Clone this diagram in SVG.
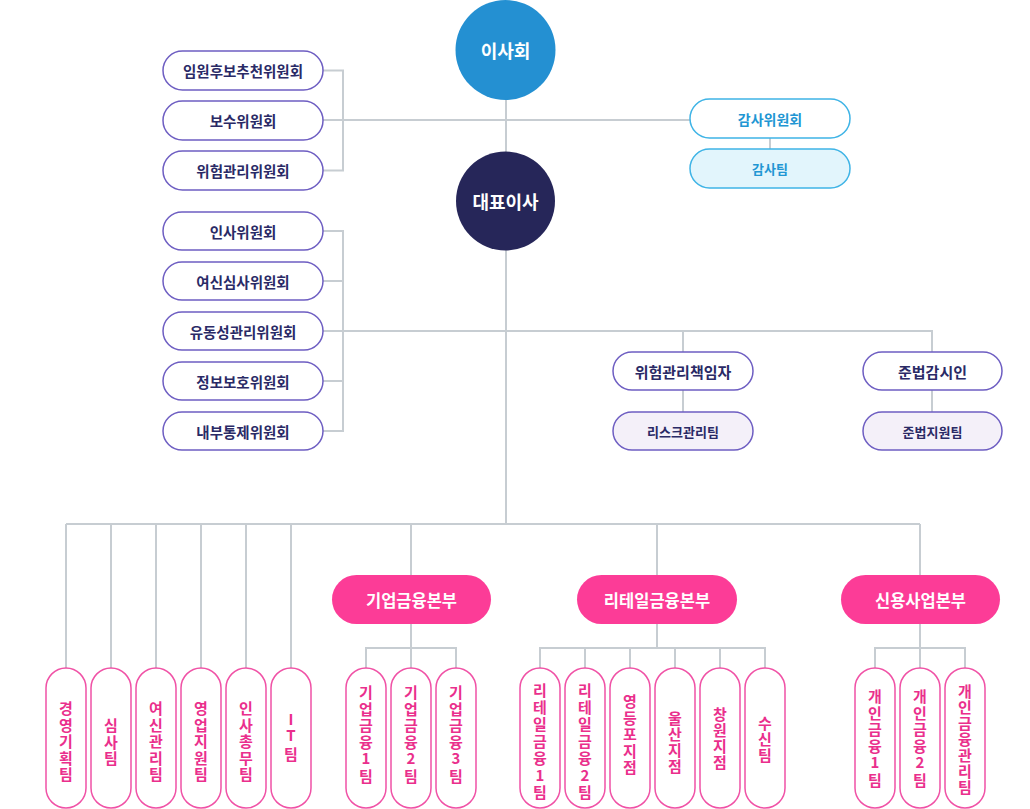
<svg xmlns="http://www.w3.org/2000/svg" width="1030" height="809" viewBox="0 0 1030 809">
<style>
text{font-family:"Noto Sans CJK KR","Noto Sans",sans-serif;text-anchor:middle;dominant-baseline:central}
.ln{stroke:#c7cdd2;stroke-width:2;fill:none}
.cm rect{fill:#fff;stroke:#6e5ec2;stroke-width:1.5}
.cm text{fill:#2a2a66;font-size:14.5px;font-weight:600}
.sub rect{fill:#f4f0f9;stroke:#6e5ec2;stroke-width:1.5}
.sub text{fill:#2a2a66;font-size:13px;font-weight:600}
.au rect{fill:#fff;stroke:#3fb4e6;stroke-width:1.5}
.au text{fill:#2196d3;font-size:14px;font-weight:600}
.aut rect{fill:#e2f5fc;stroke:#3fb4e6;stroke-width:1.5}
.aut text{fill:#2196d3;font-size:13px;font-weight:600}
.hq rect{fill:#fc3c97}
.hq text{fill:#fff;font-size:16.5px;font-weight:600}
.tm rect{fill:#fff;stroke:#f052a6;stroke-width:1.5}
.tm text{fill:#ea2f8c;font-size:15px;font-weight:700}
.big{fill:#fff;font-size:18px;font-weight:600}
</style>
<g id="connectors">
<path class="ln" d="M506 100V152M506 250V524"/>
<path class="ln" d="M323 70.5H343V170.5H323M323 120H690M770 138V149"/>
<path class="ln" d="M323 231H343V431H323M323 281H343M323 381H343M323 331H932V352M683 331V352M683 390V412M932 390V412"/>
<path class="ln" d="M66 524H920M66 524V668M111 524V668M156 524V668M201 524V668M246 524V668M291 524V668M411 524V575M657 524V575M920 524V575"/>
<path class="ln" d="M411 624V648M366 668V648H456V668M411 648V668"/>
<path class="ln" d="M657 624V648M540 668V648H765V668M585 648V668M630 648V668M675 648V668M720 648V668"/>
<path class="ln" d="M920 624V648M875 668V648H965V668M920 648V668"/>
</g>
<g id="board"><circle cx="505.5" cy="50" r="50" fill="#2490d2"/><text class="big" x="505.5" y="50">이사회</text></g>
<g id="ceo"><circle cx="505.5" cy="201" r="49.5" fill="#262659"/><text class="big" x="505.5" y="201">대표이사</text></g>
<g id="c1" class="cm"><rect x="163" y="51" width="160" height="39" rx="19.5"/><text x="243" y="70.5">임원후보추천위원회</text></g>
<g id="c2" class="cm"><rect x="163" y="101" width="160" height="39" rx="19.5"/><text x="243" y="120.5">보수위원회</text></g>
<g id="c3" class="cm"><rect x="163" y="151" width="160" height="39" rx="19.5"/><text x="243" y="170.5">위험관리위원회</text></g>
<g id="c4" class="cm"><rect x="163" y="212" width="160" height="38" rx="19"/><text x="243" y="231">인사위원회</text></g>
<g id="c5" class="cm"><rect x="163" y="262" width="160" height="38" rx="19"/><text x="243" y="281">여신심사위원회</text></g>
<g id="c6" class="cm"><rect x="163" y="312" width="160" height="38" rx="19"/><text x="243" y="331">유동성관리위원회</text></g>
<g id="c7" class="cm"><rect x="163" y="362" width="160" height="38" rx="19"/><text x="243" y="381">정보보호위원회</text></g>
<g id="c8" class="cm"><rect x="163" y="412" width="160" height="38" rx="19"/><text x="243" y="431">내부통제위원회</text></g>
<g id="audit" class="au"><rect x="690" y="99" width="160" height="39" rx="19.5"/><text x="770" y="118.5">감사위원회</text></g>
<g id="auditteam" class="aut"><rect x="690" y="149" width="160" height="39" rx="19.5"/><text x="770" y="168.5">감사팀</text></g>
<g id="cro" class="cm"><rect x="613" y="352" width="140" height="38" rx="19"/><text x="683" y="371" style="font-size:15px">위험관리책임자</text></g>
<g id="risk" class="sub"><rect x="613" y="412" width="140" height="38" rx="19"/><text x="683" y="431">리스크관리팀</text></g>
<g id="cco" class="cm"><rect x="863" y="352" width="139" height="38" rx="19"/><text x="932.5" y="371" style="font-size:15px">준법감시인</text></g>
<g id="comp" class="sub"><rect x="863" y="412" width="139" height="38" rx="19"/><text x="932.5" y="431">준법지원팀</text></g>
<g id="hq1" class="hq"><rect x="332" y="575" width="159" height="49" rx="24.5"/><text x="411.5" y="599.5">기업금융본부</text></g>
<g id="hq2" class="hq"><rect x="577" y="575" width="160" height="49" rx="24.5"/><text x="657" y="599.5">리테일금융본부</text></g>
<g id="hq3" class="hq"><rect x="841" y="575" width="159" height="49" rx="24.5"/><text x="920.5" y="599.5">신용사업본부</text></g>
<g id="t1" class="tm"><rect x="46" y="668" width="40" height="140" rx="20"/><text><tspan x="66" y="707">경</tspan><tspan x="66" y="723.5">영</tspan><tspan x="66" y="740">기</tspan><tspan x="66" y="756.5">획</tspan><tspan x="66" y="773">팀</tspan></text></g>
<g id="t2" class="tm"><rect x="91" y="668" width="40" height="140" rx="20"/><text><tspan x="111" y="724">심</tspan><tspan x="111" y="740.5">사</tspan><tspan x="111" y="757">팀</tspan></text></g>
<g id="t3" class="tm"><rect x="136" y="668" width="40" height="140" rx="20"/><text><tspan x="156" y="707">여</tspan><tspan x="156" y="723.5">신</tspan><tspan x="156" y="740">관</tspan><tspan x="156" y="756.5">리</tspan><tspan x="156" y="773">팀</tspan></text></g>
<g id="t4" class="tm"><rect x="181" y="668" width="40" height="140" rx="20"/><text><tspan x="201" y="707">영</tspan><tspan x="201" y="723.5">업</tspan><tspan x="201" y="740">지</tspan><tspan x="201" y="756.5">원</tspan><tspan x="201" y="773">팀</tspan></text></g>
<g id="t5" class="tm"><rect x="226" y="668" width="40" height="140" rx="20"/><text><tspan x="246" y="707">인</tspan><tspan x="246" y="723.5">사</tspan><tspan x="246" y="740">총</tspan><tspan x="246" y="756.5">무</tspan><tspan x="246" y="773">팀</tspan></text></g>
<g id="t6" class="tm"><rect x="271" y="668" width="40" height="140" rx="20"/><text><tspan x="291" y="718">I</tspan><tspan x="291" y="734">T</tspan><tspan x="291" y="753">팀</tspan></text></g>
<g id="t7" class="tm"><rect x="346" y="668" width="40" height="140" rx="20"/><text><tspan x="366" y="691">기</tspan><tspan x="366" y="707.5">업</tspan><tspan x="366" y="724">금</tspan><tspan x="366" y="740.5">융</tspan><tspan x="366" y="757">1</tspan><tspan x="366" y="775">팀</tspan></text></g>
<g id="t8" class="tm"><rect x="391" y="668" width="40" height="140" rx="20"/><text><tspan x="411" y="691">기</tspan><tspan x="411" y="707.5">업</tspan><tspan x="411" y="724">금</tspan><tspan x="411" y="740.5">융</tspan><tspan x="411" y="757">2</tspan><tspan x="411" y="775">팀</tspan></text></g>
<g id="t9" class="tm"><rect x="436" y="668" width="40" height="140" rx="20"/><text><tspan x="456" y="691">기</tspan><tspan x="456" y="707.5">업</tspan><tspan x="456" y="724">금</tspan><tspan x="456" y="740.5">융</tspan><tspan x="456" y="757">3</tspan><tspan x="456" y="775">팀</tspan></text></g>
<g id="t10" class="tm"><rect x="520" y="668" width="40" height="140" rx="20"/><text><tspan x="540" y="689">리</tspan><tspan x="540" y="706">테</tspan><tspan x="540" y="723">일</tspan><tspan x="540" y="740">금</tspan><tspan x="540" y="757">융</tspan><tspan x="540" y="774">1</tspan><tspan x="540" y="791">팀</tspan></text></g>
<g id="t11" class="tm"><rect x="565" y="668" width="40" height="140" rx="20"/><text><tspan x="585" y="689">리</tspan><tspan x="585" y="706">테</tspan><tspan x="585" y="723">일</tspan><tspan x="585" y="740">금</tspan><tspan x="585" y="757">융</tspan><tspan x="585" y="774">2</tspan><tspan x="585" y="791">팀</tspan></text></g>
<g id="t12" class="tm"><rect x="610" y="668" width="40" height="140" rx="20"/><text><tspan x="630" y="700">영</tspan><tspan x="630" y="716.5">등</tspan><tspan x="630" y="733">포</tspan><tspan x="630" y="749.5">지</tspan><tspan x="630" y="766">점</tspan></text></g>
<g id="t13" class="tm"><rect x="655" y="668" width="40" height="140" rx="20"/><text><tspan x="675" y="717">울</tspan><tspan x="675" y="733">산</tspan><tspan x="675" y="749">지</tspan><tspan x="675" y="765">점</tspan></text></g>
<g id="t14" class="tm"><rect x="700" y="668" width="40" height="140" rx="20"/><text><tspan x="720" y="713">창</tspan><tspan x="720" y="729">원</tspan><tspan x="720" y="745">지</tspan><tspan x="720" y="761">점</tspan></text></g>
<g id="t15" class="tm"><rect x="745" y="668" width="40" height="140" rx="20"/><text><tspan x="765" y="722">수</tspan><tspan x="765" y="738">신</tspan><tspan x="765" y="754">팀</tspan></text></g>
<g id="t16" class="tm"><rect x="855" y="668" width="40" height="140" rx="20"/><text><tspan x="875" y="695">개</tspan><tspan x="875" y="711.5">인</tspan><tspan x="875" y="728">금</tspan><tspan x="875" y="744.5">융</tspan><tspan x="875" y="761">1</tspan><tspan x="875" y="779">팀</tspan></text></g>
<g id="t17" class="tm"><rect x="900" y="668" width="40" height="140" rx="20"/><text><tspan x="920" y="695">개</tspan><tspan x="920" y="711.5">인</tspan><tspan x="920" y="728">금</tspan><tspan x="920" y="744.5">융</tspan><tspan x="920" y="761">2</tspan><tspan x="920" y="779">팀</tspan></text></g>
<g id="t18" class="tm"><rect x="945" y="668" width="40" height="140" rx="20"/><text><tspan x="965" y="690">개</tspan><tspan x="965" y="706">인</tspan><tspan x="965" y="722">금</tspan><tspan x="965" y="738">융</tspan><tspan x="965" y="754">관</tspan><tspan x="965" y="770">리</tspan><tspan x="965" y="786">팀</tspan></text></g>
</svg>
